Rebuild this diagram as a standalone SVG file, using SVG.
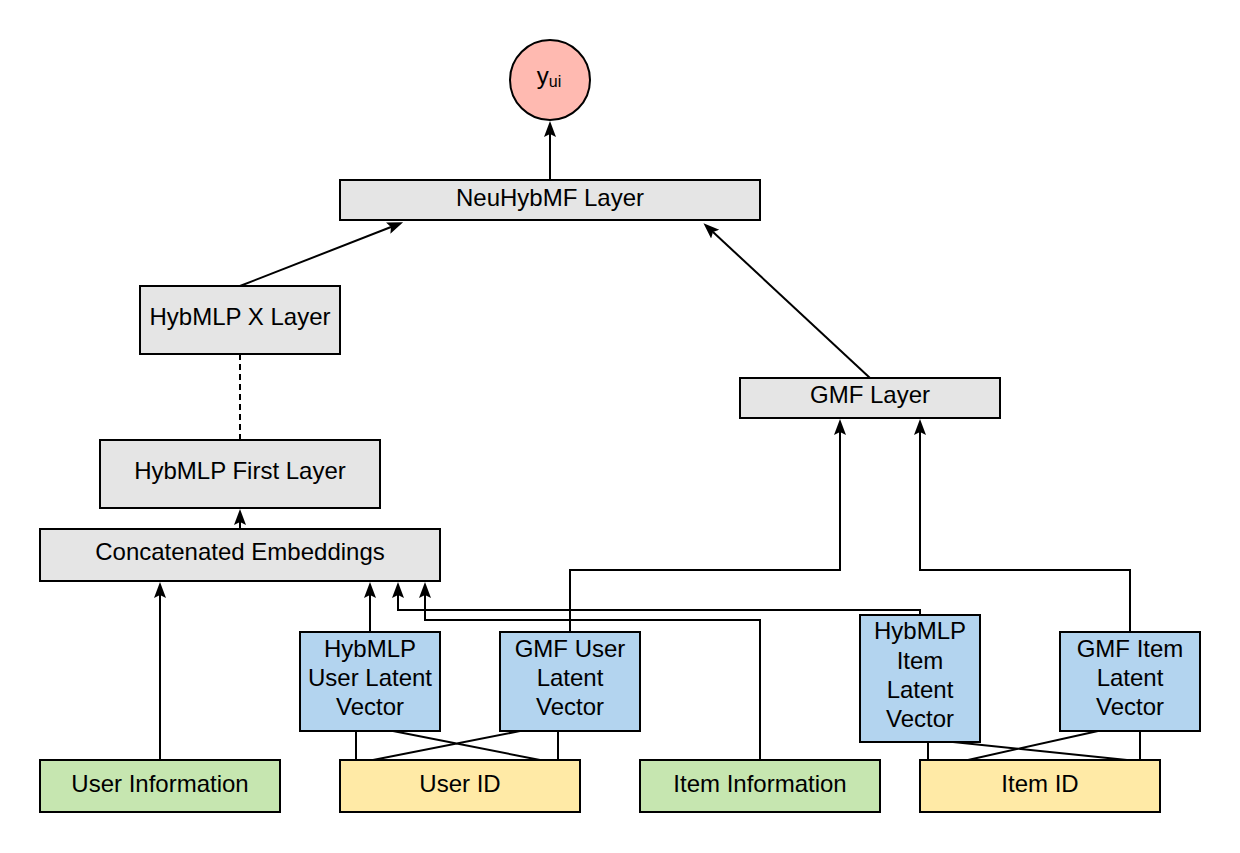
<svg xmlns="http://www.w3.org/2000/svg" width="1240" height="853" viewBox="0 0 1240 853">
<style>
.n{stroke:#000;stroke-width:2}
.g{fill:#e5e5e5}
.b{fill:#b3d4ef}
.gr{fill:#c6e6b0}
.y{fill:#ffeaa6}
.p{fill:#ffbab1}
text{font-family:"Liberation Sans",Arial,Helvetica,sans-serif;font-size:24px;fill:#000;text-anchor:middle}
.c{fill:none;stroke:#000;stroke-width:2}
.a{marker-end:url(#ah)}
</style>
<defs>
<marker id="ah" markerUnits="userSpaceOnUse" markerWidth="16" markerHeight="14" viewBox="0 0 16 12" refX="3" refY="6" orient="auto">
<path d="M0,0 L16,6 L0,12 L3,6 z" fill="#000"/>
</marker>
</defs>
<rect width="1240" height="853" fill="#fff"/>
<g id="connectors">
<path class="c a" d="M550,180 V134"/>
<path class="c a" d="M240,286 L391,227"/>
<path class="c a" d="M870,378 L713,232"/>
<path class="c" d="M240,354 V440" stroke-dasharray="6 4"/>
<path class="c a" d="M240,529 V522"/>
<path class="c a" d="M160,760 V595"/>
<path class="c a" d="M370,632 V595"/>
<path class="c a" d="M920,615 V610 H398 V595"/>
<path class="c a" d="M760,760 V620 H425 V595"/>
<path class="c a" d="M570,632 V570 H840 V432"/>
<path class="c a" d="M1130,632 V570 H920 V432"/>
<path class="c" d="M356,731 V760 M393,731 L540,760 M520,731 L373,760 M558,731 V760"/>
<path class="c" d="M928,742 V760 M953,742 L1127,760 M1098,731 L968,760 M1140,731 V760"/>
</g>
<g id="yui">
<circle class="n p" cx="550" cy="80" r="40"/>
<text x="549" y="84"><tspan>y</tspan><tspan font-size="16" dy="3">ui</tspan></text>
</g>
<g id="neuhybmf">
<rect class="n g" x="340" y="180" width="420" height="40"/>
<text x="550" y="206">NeuHybMF Layer</text>
</g>
<g id="hybmlp-x">
<rect class="n g" x="140" y="286" width="200" height="68"/>
<text x="240" y="325">HybMLP X Layer</text>
</g>
<g id="gmf-layer">
<rect class="n g" x="740" y="378" width="260" height="40"/>
<text x="870" y="403">GMF Layer</text>
</g>
<g id="hybmlp-first">
<rect class="n g" x="100" y="440" width="280" height="68"/>
<text x="240" y="479">HybMLP First Layer</text>
</g>
<g id="concat">
<rect class="n g" x="40" y="529" width="400" height="52"/>
<text x="240" y="560">Concatenated Embeddings</text>
</g>
<g id="hybmlp-user">
<rect class="n b" x="300" y="632" width="140" height="99"/>
<text x="370" y="657">HybMLP</text>
<text x="370" y="686">User Latent</text>
<text x="370" y="715">Vector</text>
</g>
<g id="gmf-user">
<rect class="n b" x="500" y="632" width="140" height="99"/>
<text x="570" y="657">GMF User</text>
<text x="570" y="686">Latent</text>
<text x="570" y="715">Vector</text>
</g>
<g id="hybmlp-item">
<rect class="n b" x="860" y="615" width="120" height="127"/>
<text x="920" y="639">HybMLP</text>
<text x="920" y="669">Item</text>
<text x="920" y="698">Latent</text>
<text x="920" y="727">Vector</text>
</g>
<g id="gmf-item">
<rect class="n b" x="1060" y="632" width="140" height="99"/>
<text x="1130" y="657">GMF Item</text>
<text x="1130" y="686">Latent</text>
<text x="1130" y="715">Vector</text>
</g>
<g id="user-info">
<rect class="n gr" x="40" y="760" width="240" height="52"/>
<text x="160" y="792">User Information</text>
</g>
<g id="user-id">
<rect class="n y" x="340" y="760" width="240" height="52"/>
<text x="460" y="792">User ID</text>
</g>
<g id="item-info">
<rect class="n gr" x="640" y="760" width="240" height="52"/>
<text x="760" y="792">Item Information</text>
</g>
<g id="item-id">
<rect class="n y" x="920" y="760" width="240" height="52"/>
<text x="1040" y="792">Item ID</text>
</g>
</svg>
